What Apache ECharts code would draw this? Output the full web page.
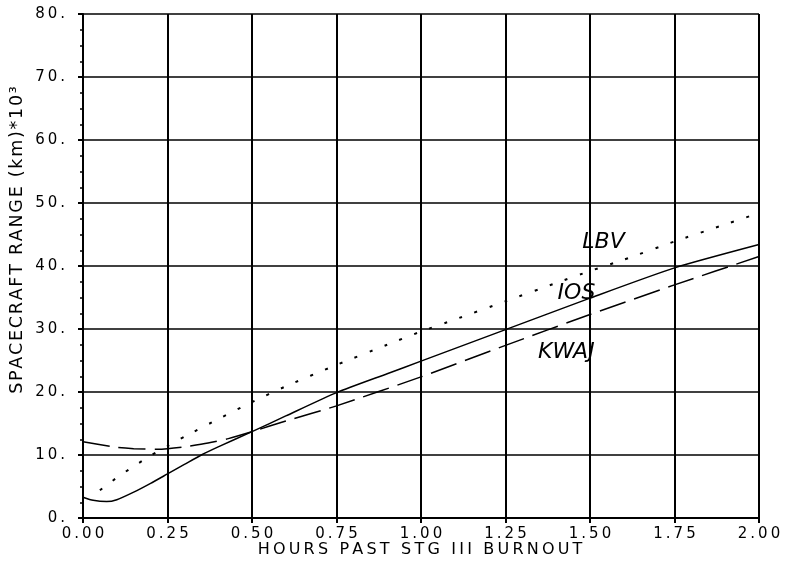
<!DOCTYPE html>
<html>
<head>
<meta charset="utf-8">
<script src="https://cdn.jsdelivr.net/npm/echarts@6/dist/echarts.min.js"></script>
<style>
  html, body { margin: 0; padding: 0; background: #fff; }
  #chart { width: 786px; height: 569px; }
</style>
</head>
<body>
<div id="chart"></div>
<script>
// Spacecraft range vs. time after S-IVB (stage III) burnout, per tracking station
const iosHours = [0, 0.03, 0.07, 0.1, 0.15, 0.2, 0.25, 0.3, 0.35, 0.4, 0.5, 0.6, 0.75, 0.9, 1.0, 1.25, 1.5, 1.75, 2.0];
const iosRange = [3.3, 2.8, 2.6, 2.9, 4.1, 5.5, 7.0, 8.5, 10.0, 11.3, 13.7, 16.2, 19.9, 22.9, 24.9, 29.9, 34.9, 39.7, 43.4];

const kwajHours = [0, 0.1, 0.15, 0.22, 0.25, 0.3, 0.37, 0.43, 0.5, 0.6, 0.75, 1.0, 1.25, 1.5, 1.75, 2.0];
const kwajRange = [12.1, 11.2, 11.0, 10.9, 11.0, 11.3, 11.9, 12.6, 13.7, 15.4, 17.8, 22.4, 27.4, 32.3, 37.0, 41.5];

const lbvHours = [0.05, 0.1, 0.15, 0.2, 0.25, 0.3, 0.4, 0.5, 0.6, 0.75, 0.9, 1.0, 1.1, 1.25, 1.4, 1.5, 1.6, 1.75, 1.9, 2.0];
const lbvRange = [4.4, 6.4, 8.2, 9.9, 11.4, 12.9, 15.7, 18.4, 20.9, 24.3, 27.5, 29.6, 31.5, 34.4, 37.3, 39.2, 41.0, 43.9, 46.6, 48.4];

// hand-written station tags, placed in data units
const tagNames = ['LBV', 'IOS', 'KWAJ'];
const tagHours = [1.54, 1.46, 1.43];
const tagRanges = [43.8, 35.6, 26.3];

const xTitle = 'HOURS PAST STG III BURNOUT';
const yTitle = 'SPACECRAFT RANGE (km)*10\u00B3';

// plotter-style lettering: widen the spacing between characters
const spaced = (s, gap) => s.split('').join(gap || '\u2009');

const zip = (xs, ys) => xs.map((x, i) => [x, ys[i]]);

const tag = i => ({
  symbol: 'circle',
  symbolSize: 0,
  label: {
    show: true,
    position: 'inside',
    formatter: tagNames[i],
    color: '#000',
    fontFamily: 'DejaVu Sans',
    fontStyle: 'italic',
    fontSize: 22
  },
  data: [{ coord: [tagHours[i], tagRanges[i]] }]
});

const chart = echarts.init(document.getElementById('chart'), null, { renderer: 'canvas' });

const ink = '#000';
const textFont = 'DejaVu Sans';

chart.setOption({
  animation: false,
  backgroundColor: '#fff',
  grid: { left: 83, right: 27, top: 14, bottom: 51, containLabel: false },
  xAxis: {
    type: 'value',
    min: 0,
    max: 2,
    interval: 0.25,
    axisLine: { show: true, onZero: false, lineStyle: { color: ink, width: 2 } },
    axisTick: { show: true, length: 5, lineStyle: { color: ink, width: 2 } },
    axisLabel: {
      color: ink, fontFamily: textFont, fontSize: 15, margin: 9,
      formatter: v => spaced(v.toFixed(2))
    },
    splitLine: { show: true, lineStyle: { color: ink, width: 2 } }
  },
  yAxis: {
    type: 'value',
    min: 0,
    max: 80,
    interval: 10,
    axisLine: { show: true, lineStyle: { color: ink, width: 2 } },
    axisTick: { show: true, length: 5, lineStyle: { color: ink, width: 2 } },
    minorTick: { show: true, splitNumber: 4, length: 3, lineStyle: { color: ink, width: 1.5 } },
    axisLabel: {
      color: ink, fontFamily: textFont, fontSize: 15, margin: 18,
      formatter: v => spaced(v + '.')
    },
    splitLine: { show: true, lineStyle: { color: ink, width: 1.5 } }
  },
  graphic: [
    {
      type: 'text',
      x: 420, y: 550,
      style: {
        text: spaced(xTitle),
        fill: ink, font: '16px "DejaVu Sans"',
        textAlign: 'center', textVerticalAlign: 'middle'
      }
    },
    {
      type: 'text',
      x: 17, y: 240,
      rotation: Math.PI / 2,
      style: {
        text: spaced(yTitle, '\u200A'),
        fill: ink, font: '17.5px "DejaVu Sans"',
        textAlign: 'center', textVerticalAlign: 'middle'
      }
    }
  ],
  series: [
    {
      name: 'IOS',
      type: 'line',
      data: zip(iosHours, iosRange),
      showSymbol: false,
      smooth: 0.2,
      lineStyle: { color: ink, width: 1.5, type: 'solid' },
      markPoint: tag(1)
    },
    {
      name: 'KWAJ',
      type: 'line',
      data: zip(kwajHours, kwajRange),
      showSymbol: false,
      smooth: 0.2,
      lineStyle: { color: ink, width: 1.5, type: [27, 9] },
      markPoint: tag(2)
    },
    {
      name: 'LBV',
      type: 'line',
      data: zip(lbvHours, lbvRange),
      showSymbol: false,
      smooth: 0.2,
      lineStyle: { color: ink, width: 2, type: [3, 13] },
      markPoint: tag(0)
    }
  ]
});
</script>
</body>
</html>
